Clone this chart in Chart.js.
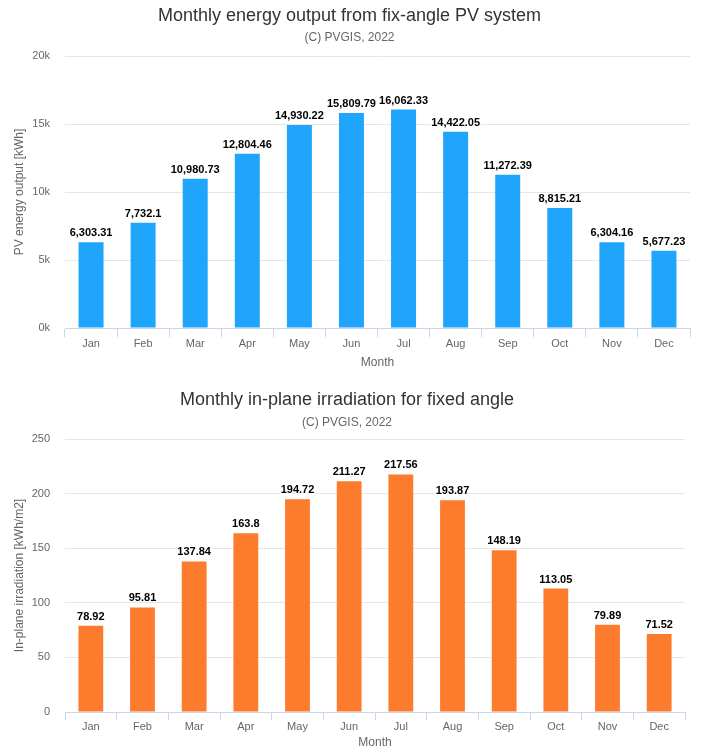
<!DOCTYPE html>
<html><head><meta charset="utf-8">
<script src="https://cdn.jsdelivr.net/npm/chart.js@4.4.0/dist/chart.umd.min.js"></script>
<style>
html,body{margin:0;padding:0;background:#fff;width:701px;height:749px;overflow:hidden;}
#c1{position:absolute;left:0;top:0;}
#c2{position:absolute;left:0;top:375px;}
</style></head><body>
<canvas id="c1" width="701" height="375"></canvas>
<canvas id="c2" width="701" height="374"></canvas>
<script>
const months = ['Jan','Feb','Mar','Apr','May','Jun','Jul','Aug','Sep','Oct','Nov','Dec'];
const energyOutput = [6303.31, 7732.1, 10980.73, 12804.46, 14930.22, 15809.79, 16062.33, 14422.05, 11272.39, 8815.21, 6304.16, 5677.23];
const irradiation = [78.92, 95.81, 137.84, 163.8, 194.72, 211.27, 217.56, 193.87, 148.19, 113.05, 79.89, 71.52];
const energyTickLabels = ['0k','5k','10k','15k','20k'];
const irradiationTickLabels = ['0','50','100','150','200','250'];

const FAMILY = '"Liberation Sans", Arial, Helvetica, sans-serif';

const fmt = v => v.toLocaleString('en-US', {maximumFractionDigits: 2});

const valueLabels = {
  id: 'valueLabels',
  afterDatasetsDraw(chart) {
    const ctx = chart.ctx;
    const meta = chart.getDatasetMeta(0);
    const data = chart.data.datasets[0].data;
    ctx.save();
    ctx.font = 'bold 11px ' + FAMILY;
    ctx.textAlign = 'center';
    ctx.textBaseline = 'alphabetic';
    ctx.lineJoin = 'round';
    meta.data.forEach((bar, i) => {
      const txt = fmt(data[i]);
      ctx.strokeStyle = '#ffffff';
      ctx.lineWidth = 2;
      ctx.strokeText(txt, bar.x, bar.y - 6);
      ctx.fillStyle = '#000000';
      ctx.fillText(txt, bar.x, bar.y - 6);
    });
    ctx.restore();
  }
};

function makeChart(canvas, cfg) {
  return new Chart(canvas, {
    type: 'bar',
    data: {
      labels: months,
      datasets: [{
        data: cfg.values,
        backgroundColor: cfg.color,
        borderWidth: 0,
        categoryPercentage: 1,
        barPercentage: 0.48
      }]
    },
    options: {
      responsive: false,
      animation: false,
      devicePixelRatio: 1,
      layout: {padding: {left: 0, right: cfg.padRight, top: 0, bottom: 0}},
      plugins: {
        legend: {display: false},
        tooltip: {enabled: false},
        title: {
          display: true, text: cfg.title, color: '#333333',
          font: {family: FAMILY, size: 18, weight: 'normal', lineHeight: 1.2},
          padding: {top: cfg.tPadTop, bottom: 0}
        },
        subtitle: {
          display: true, text: '(C) PVGIS, 2022', color: '#666666',
          font: {family: FAMILY, size: 12, weight: 'normal', lineHeight: 1.2},
          padding: {top: cfg.sPadTop, bottom: cfg.sPadBottom}
        }
      },
      scales: {
        x: {
          grid: {offset: true, drawOnChartArea: false, drawTicks: true, tickLength: cfg.tickLen, color: '#ccd6eb'},
          border: {color: '#ccd6eb', width: 1},
          ticks: {color: '#666666', font: {family: FAMILY, size: 11}, padding: 0, maxRotation: 0, autoSkip: false},
          title: {
            display: true, text: 'Month', color: '#666666',
            font: {family: FAMILY, size: 12, lineHeight: cfg.xTitleLH},
            padding: {top: 0, bottom: cfg.xTitlePadBottom}
          },
          afterFit: s => { s.height = cfg.xHeight; }
        },
        y: {
          min: 0, max: cfg.max,
          ticks: {
            stepSize: cfg.step, color: '#666666', font: {family: FAMILY, size: 11}, padding: 15,
            callback: (v, i) => cfg.tickLabels[i]
          },
          grid: {drawTicks: false, lineWidth: 1, color: c => (c.tick && c.tick.value === 0) ? 'rgba(0,0,0,0)' : '#e6e6e6'},
          border: {display: false},
          title: {
            display: true, text: cfg.yTitle, color: '#666666',
            font: {family: FAMILY, size: 12, lineHeight: 1.2},
            padding: {top: 12, bottom: 0}
          },
          afterFit: s => { s.width = 65; }
        },
        yRight: {
          position: 'right',
          display: true,
          min: 0, max: cfg.max,
          grid: {display: false, drawOnChartArea: false, drawTicks: false},
          border: {display: false},
          ticks: {display: false},
          afterFit: s => { s.width = cfg.rightGap; }
        }
      }
    },
    plugins: [valueLabels]
  });
}

makeChart(document.getElementById('c1'), {
  values: energyOutput,
  color: '#1fa6fc',
  title: 'Monthly energy output from fix-angle PV system',
  yTitle: 'PV energy output [kWh]',
  tickLabels: energyTickLabels,
  max: 20000, step: 5000,
  padRight: 2, rightGap: 9,
  tPadTop: 5.7, sPadTop: 3, sPadBottom: 11.3,
  tickLen: 9, xHeight: 47, xTitleLH: 1.2, xTitlePadBottom: 5.5
});

makeChart(document.getElementById('c2'), {
  values: irradiation,
  color: '#fd7b2c',
  title: 'Monthly in-plane irradiation for fixed angle',
  yTitle: 'In-plane irradiation [kWh/m2]',
  tickLabels: irradiationTickLabels,
  max: 250, step: 50,
  padRight: 7, rightGap: 9,
  tPadTop: 14.2, sPadTop: 5, sPadBottom: 8.8,
  tickLen: 8, xHeight: 37, xTitleLH: 1.0, xTitlePadBottom: 0
});
</script>
</body></html>
